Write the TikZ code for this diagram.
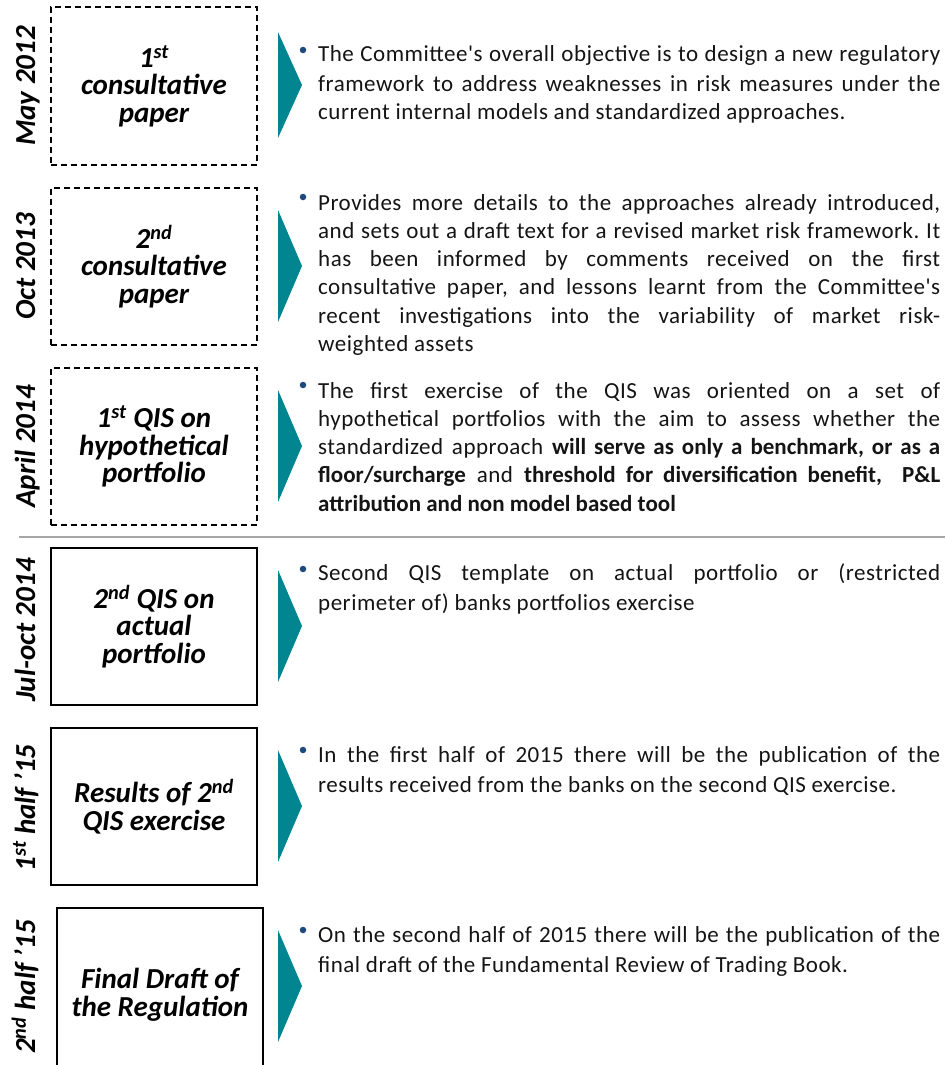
\documentclass[tikz,border=0pt]{standalone}
\usepackage{fontspec}
\setmainfont{Carlito}
\newfontfamily\bodyfont{Carlito}[LetterSpace=2.2]
\newcommand\bb[1]{{\normalfont\bfseries #1}}
\frenchspacing
\definecolor{arrowteal}{RGB}{0,133,145}
\definecolor{bulletblue}{RGB}{31,73,125}
\definecolor{sepgray}{RGB}{166,166,166}
\definecolor{bodyblack}{RGB}{20,20,20}
\tikzset{
  datelbl/.style={rotate=90, anchor=base, inner sep=0pt, font=\bfseries\itshape\fontsize{29pt}{30pt}\selectfont},
  stagebox/.style={draw=black, line width=2pt, minimum width=206pt, align=center, inner sep=0pt,
    font=\bfseries\itshape\fontsize{29pt}{27.5pt}\selectfont},
  dashedbox/.style={stagebox, dash pattern=on 6pt off 4pt},
  bodytext/.style={anchor=base west, text width=622pt, align=justify, inner sep=0pt, text=bodyblack},
  bulletdot/.style={circle, fill=bulletblue, inner sep=0pt, minimum size=6.5pt},
  pointer/.style={fill=arrowteal},
  separator/.style={draw=sepgray, line width=2pt}
}
\begin{document}
\begin{tikzpicture}[x=1pt,y=-1pt]
\useasboundingbox (0,0) rectangle (945,1065);

% ---- stage boxes ----
\node[dashedbox, minimum height=158pt] (b1) at (154,86) {1\textsuperscript{st}\\consultative\\paper};
\node[dashedbox, minimum height=157pt] (b2) at (154,266.5) {2\textsuperscript{nd}\\consultative\\paper};
\node[dashedbox, minimum height=157pt] (b3) at (154,446.5) {1\textsuperscript{st} QIS on\\hypothetical\\portfolio};
\node[stagebox, minimum height=157pt] (b4) at (154,626.5) {2\textsuperscript{nd} QIS on\\actual\\portfolio};
\node[stagebox, minimum height=157pt] (b5) at (154,806.5) {Results of 2\textsuperscript{nd}\\QIS exercise};
\node[stagebox, minimum height=174pt] (b6) at (160,995) {Final Draft of\\the Regulation};

% ---- date labels ----
\node[datelbl] (d1) at (35,86) {May 2012};
\node[datelbl] (d2) at (35,266.5) {Oct 2013};
\node[datelbl] (d3) at (35,446.5) {April 2014};
\node[datelbl] (d4) at (35,630) {Jul-oct 2014};
\node[datelbl] (d5) at (35,808) {1\textsuperscript{st} half ’15};
\node[datelbl] (d6) at (35,987) {2\textsuperscript{nd} half ’15};

% ---- separator ----
\coordinate (sepL) at (19,537);
\coordinate (sepR) at (945,537);
\draw[separator] (sepL) -- (sepR);

% ---- pointers ----
\fill[pointer] (278,32) -- (302,85) -- (278,138) -- cycle;
\fill[pointer] (278,210) -- (302,266) -- (278,322) -- cycle;
\fill[pointer] (278,390) -- (302,446) -- (278,502) -- cycle;
\fill[pointer] (278,570) -- (302,626) -- (278,682) -- cycle;
\fill[pointer] (278,750) -- (302,806) -- (278,862) -- cycle;
\fill[pointer] (278,930) -- (302,986) -- (278,1042) -- cycle;

% ---- bullets ----
\node[bulletdot] (p1) at (303,50) {};
\node[bulletdot] (p2) at (303,197) {};
\node[bulletdot] (p3) at (303,385) {};
\node[bulletdot] (p4) at (303,569) {};
\node[bulletdot] (p5) at (303,750) {};
\node[bulletdot] (p6) at (303,930) {};

% ---- body texts ----
\node[bodytext, font=\bodyfont\fontsize{23pt}{29pt}\selectfont] (t1) at (318,62) {The Committee's overall objective is to design a new regulatory\linebreak
framework to address weaknesses in risk measures under the\linebreak
current internal models and standardized approaches.};

\node[bodytext, font=\bodyfont\fontsize{23pt}{28.3pt}\selectfont] (t2) at (318,210) {Provides more details to the approaches already introduced,\linebreak
and sets out a draft text for a revised market risk framework. It\linebreak
has been informed by comments received on the first\linebreak
consultative paper, and lessons learnt from the Committee's\linebreak
recent investigations into the variability of market risk-\linebreak
weighted assets};

\node[bodytext, font=\bodyfont\fontsize{23pt}{28.3pt}\selectfont] (t3) at (318,398) {The first exercise of the QIS was oriented on a set of\linebreak
hypothetical portfolios with the aim to assess whether the\linebreak
standardized approach \bb{will serve as only a benchmark, or as a}\linebreak
\bb{floor/surcharge} and \bb{threshold for diversification benefit,\ \ P\&L}\linebreak
\bb{attribution and non model based tool}};

\node[bodytext, font=\bodyfont\fontsize{23pt}{30pt}\selectfont] (t4) at (318,580) {Second QIS template on actual portfolio or (restricted\linebreak
perimeter of) banks portfolios exercise};

\node[bodytext, font=\bodyfont\fontsize{23pt}{30pt}\selectfont] (t5) at (318,762) {In the first half of 2015 there will be the publication of the\linebreak
results received from the banks on the second QIS exercise.};

\node[bodytext, font=\bodyfont\fontsize{23pt}{30pt}\selectfont] (t6) at (318,942) {On the second half of 2015 there will be the publication of the\linebreak
final draft of the Fundamental Review of Trading Book.};
\end{tikzpicture}
\end{document}
